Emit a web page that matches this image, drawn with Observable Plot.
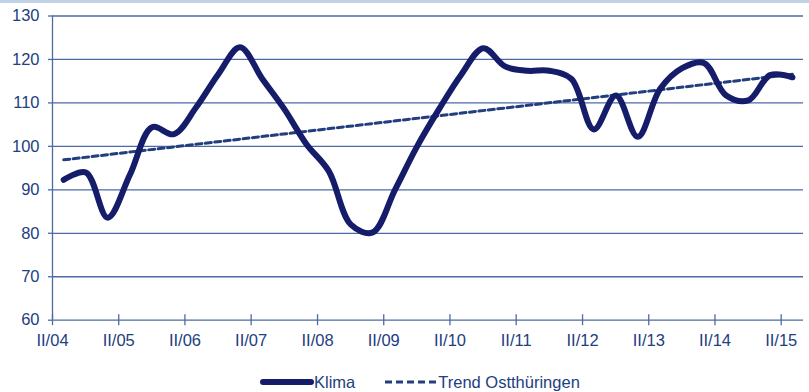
<!DOCTYPE html>
<html>
<head>
<meta charset="utf-8">
<script src="https://cdn.jsdelivr.net/npm/d3@7"></script>
<script src="https://cdn.jsdelivr.net/npm/@observablehq/plot@0.6"></script>
<style>
  body { margin: 0; background: #fff; font-family: "Liberation Sans", Arial, sans-serif; }
  #wrap { position: relative; width: 809px; height: 392px; overflow: hidden; }
  #band { position: absolute; left: 0; top: 0; width: 809px; height: 3px; background: #bfd2e6; }
  #legend { position: absolute; left: 260px; top: 370px; height: 24px; display: flex; align-items: center;
            font-size: 16.5px; color: #22407f; white-space: nowrap; }
  #legend svg { display: block; }
  #legend .item { display: flex; align-items: center; }
</style>
</head>
<body>
<div id="wrap">
  <div id="chart"></div>
  <div id="band"></div>
  <div id="legend"></div>
</div>
<script>
// Survey waves (beginning of year, early summer, autumn)
const surveys = [
  "2004-09",
  "2005-01", "2005-05", "2005-09",
  "2006-01", "2006-05", "2006-09",
  "2007-01", "2007-05", "2007-09",
  "2008-01", "2008-05", "2008-09",
  "2009-01", "2009-05", "2009-09",
  "2010-01", "2010-05", "2010-09",
  "2011-01", "2011-05", "2011-09",
  "2012-01", "2012-05", "2012-09",
  "2013-01", "2013-05", "2013-09",
  "2014-01", "2014-05", "2014-09",
  "2015-01", "2015-05", "2015-09"
];

// Business climate index per wave
const klima = [
  92.3,
  94.0, 83.6, 93.5,
  104.4, 102.8, 109.0,
  116.6, 122.8, 115.5,
  108.5, 100.5, 94.3,
  82.0, 80.2, 90.0,
  100.0, 108.5, 116.5,
  122.6, 118.4, 117.4,
  117.4, 115.5, 103.9,
  111.7, 102.2, 113.2,
  118.0, 119.2, 111.7,
  110.6, 116.4, 115.9
];

// Linear trend, start and end value
const trendValues = [96.9, 116.6];

// Axis ticks
const tickMonths = ["2004-07", "2005-07", "2006-07", "2007-07", "2008-07", "2009-07",
                    "2010-07", "2011-07", "2012-07", "2013-07", "2014-07", "2015-07"];
const tickLabels = ["II/04", "II/05", "II/06", "II/07", "II/08", "II/09",
                    "II/10", "II/11", "II/12", "II/13", "II/14", "II/15"];
const yTicks = [60, 70, 80, 90, 100, 110, 120, 130];
const xDomain = ["2004-07", "2015-11"];

const parse = d3.utcParse("%Y-%m");
const series = surveys.map((s, i) => ({date: parse(s), value: klima[i]}));
const trend = [
  {date: parse(surveys[0]), value: trendValues[0]},
  {date: parse(surveys[surveys.length - 1]), value: trendValues[1]}
];
const ticks = tickMonths.map(parse);
const labelOf = new Map(ticks.map((t, i) => [+t, tickLabels[i]]));

const gridColor = "#4d6aa6";
const textColor = "#22407f";

const chart = Plot.plot({
  width: 809,
  height: 362,
  marginTop: 15.5,
  marginBottom: 42.3,
  marginLeft: 52,
  marginRight: 6,
  style: {fontFamily: "'Liberation Sans', Arial, sans-serif", fontSize: "16.5px", color: textColor, background: "#fff"},
  x: {type: "utc", domain: xDomain.map(parse)},
  y: {domain: [60, 130]},
  marks: [
    Plot.ruleY(yTicks, {stroke: gridColor, strokeWidth: 1.3}),
    Plot.ruleX([parse(xDomain[0])], {stroke: gridColor, strokeWidth: 1.3}),
    Plot.ruleX(ticks, {y1: 60, y2: 60, insetTop: 5.5, insetBottom: 5.5, stroke: gridColor, strokeWidth: 1.3}),
    Plot.axisY({ticks: yTicks, tickSize: 4, tickPadding: 9, stroke: gridColor, strokeWidth: 1.3,
                fill: textColor, label: null}),
    Plot.axisX({ticks, tickSize: 0, tickPadding: 14, fill: textColor, label: null,
                tickFormat: d => labelOf.get(+d)}),
    Plot.line(trend, {x: "date", y: "value", stroke: "#233e7e", strokeWidth: 3, strokeDasharray: "6,3.5"}),
    Plot.line(series, {x: "date", y: "value", curve: "catmull-rom", stroke: "#151c6a", strokeWidth: 6,
                       strokeLinejoin: "round", strokeLinecap: "round"})
  ]
});
document.getElementById("chart").appendChild(chart);

// Legend below the chart
const legend = d3.select("#legend");
const k = legend.append("div").attr("class", "item");
k.append("svg").attr("width", 54).attr("height", 12)
  .append("line").attr("x1", 3).attr("x2", 51).attr("y1", 6).attr("y2", 6)
  .attr("stroke", "#151c6a").attr("stroke-width", 6).attr("stroke-linecap", "round");
k.append("span").text("Klima");
const t = legend.append("div").attr("class", "item").style("margin-left", "30px");
t.append("svg").attr("width", 53).attr("height", 12)
  .append("line").attr("x1", 0).attr("x2", 53).attr("y1", 6).attr("y2", 6)
  .attr("stroke", "#233e7e").attr("stroke-width", 3).attr("stroke-dasharray", "7,4");
t.append("span").text("Trend Ostthüringen");
</script>
</body>
</html>
